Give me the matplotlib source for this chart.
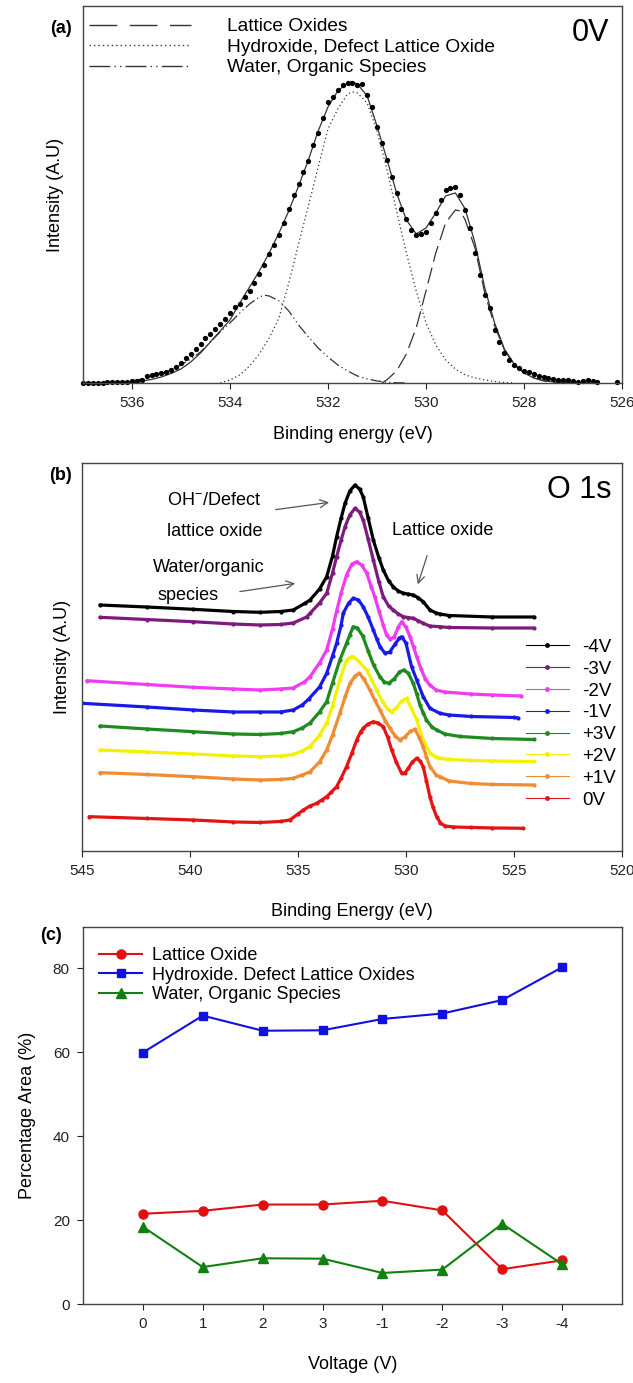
import matplotlib
matplotlib.use("Agg")
import matplotlib.pyplot as plt
from matplotlib.lines import Line2D
import numpy as np

plt.rcParams['font.family'] = ['Liberation Sans', 'DejaVu Sans']
plt.rcParams['mathtext.fontset'] = 'custom'
plt.rcParams['mathtext.rm'] = 'Liberation Sans'

# ---- (a) O 1s fit at 0V ----
e_dots = list(np.round(np.arange(537.0, 526.45, -0.1), 1)) + [526.1]
i_dots = [0, 0, 0, 0.3, 0.3, 0.5, 0.5, 0.7, 1.0, 0.7,
          1.5, 2.0, 3.4, 7.0, 8.3, 9.0, 9.8, 11.0, 13.0, 15.5,
          19.5, 24.5, 28.5, 34.0, 38.5, 44.5, 49.0, 54.0, 58.5, 64.0,
          69.5, 75.5, 79.0, 85.5, 91.5, 99.5, 108.5, 118, 129, 137.5,
          148, 160, 174, 187.5, 199, 210.5, 222, 237.5, 249.5, 265,
          280.5, 286, 293, 297.5, 299.5, 299.5, 298, 298.5, 288, 276,
          256, 239.5, 222.5, 206, 189.5, 174, 164, 152.5, 147.5, 149,
          151, 160, 169.5, 183, 192.5, 195, 195.5, 187.5, 172.5, 154.5,
          130, 107.5, 87.5, 74.5, 53, 41, 29.5, 22.5, 17.5, 14.5,
          12, 10.5, 8.5, 7, 6, 5.3, 3.5, 2.7, 2.7, 2.5,
          2, 1, 2, 2.5, 2, 1, 1]

env_e = [537.0, 536.6, 536.2, 536.0, 535.8, 535.6, 535.4, 535.2, 535.0, 534.8,
         534.6, 534.4, 534.2, 534.0, 533.8, 533.6, 533.4, 533.2, 533.0, 532.8,
         532.6, 532.4, 532.2, 532.0, 531.8, 531.6, 531.5, 531.4, 531.2, 531.0,
         530.8, 530.6, 530.4, 530.2, 530.0, 529.8, 529.6, 529.4, 529.2, 529.0,
         528.8, 528.6, 528.4, 528.2, 528.0, 527.8, 527.6, 527.4, 527.0, 526.5]
env_v = [0, 0, 0.5, 1, 2, 3.5, 6, 9.5, 14, 21,
         30, 41, 52, 63, 80, 96, 112, 130, 150, 172,
         197, 223, 252, 276, 292, 300, 301, 299, 287, 257,
         224, 190, 163, 149, 155, 170, 187, 190, 174, 140,
         95, 60, 34, 19, 10, 5, 2.5, 1, 0, 0]

lat_e = [530.9, 530.8, 530.6, 530.4, 530.2, 530.0, 529.8, 529.6, 529.4, 529.3, 529.2,
         529.0, 528.8, 528.6, 528.4, 528.2, 528.0, 527.8, 527.6, 527.4, 527.0]
lat_v = [0, 3, 12, 29, 55, 92, 130, 160, 173, 172, 163,
         135, 90, 57, 33, 18, 10, 5, 2, 0.5, 0]

hyd_e = [534.2, 534.0, 533.8, 533.6, 533.4, 533.2, 533.0, 532.8, 532.6, 532.4, 532.2,
         532.0, 531.8, 531.6, 531.5, 531.4, 531.2, 531.0, 530.8, 530.6, 530.4, 530.2,
         530.0, 529.8, 529.6, 529.4, 529.2, 529.0, 528.8, 528.6, 528.4, 528.2]
hyd_v = [0, 3, 8, 17, 29, 45, 65, 100, 139, 177, 216,
         254, 274, 289, 291, 290, 280, 252, 214, 172, 130, 92,
         60, 38, 23, 14, 8, 5, 3, 1.5, 0.5, 0]

wat_e = [536.0, 535.8, 535.6, 535.4, 535.2, 535.0, 534.8, 534.6, 534.4, 534.2,
         534.0, 533.8, 533.6, 533.4, 533.3, 533.2, 533.0, 532.8, 532.6, 532.4,
         532.2, 532.0, 531.8, 531.6, 531.4, 531.2, 531.0, 530.8, 530.6, 530.4]
wat_v = [2, 4, 6.5, 9.5, 13, 18, 24, 31, 41, 51,
         60, 70, 79, 86, 87.7, 87, 82, 72, 58, 46,
         35, 26, 18, 12, 7, 4, 2, 0.8, 0.2, 0]

# ---- (b) O 1s spectra vs voltage ----
bk_e = [544.17, 542.0, 539.85, 538.0, 536.76, 535.8, 535.22, 534.68, 534.44, 534.0,
        533.67, 533.4, 533.21, 533.0, 532.82, 532.6, 532.36, 532.15, 531.98, 531.75,
        531.51, 531.25, 531.05, 530.8, 530.59, 530.35, 530.12, 529.9, 529.66, 529.45,
        529.2, 528.89, 528.6, 528.43, 528.0, 526.0, 524.07]
bk_v = [246, 244, 241.7, 239.5, 238.7, 239.5, 241, 247.7, 251, 262,
        274.3, 295, 314.3, 333, 347.7, 360, 366, 362, 354.3, 333,
        311, 293, 281, 270, 264.3, 260, 257.7, 257, 256, 253.5,
        249.3, 241, 238, 237, 235.5, 234, 234]

pu_e = [544.17, 542.0, 539.85, 538.0, 536.76, 535.8, 535.22, 534.6, 534.44, 534.0,
        533.67, 533.4, 533.21, 533.0, 532.82, 532.6, 532.36, 532.15, 531.98, 531.75,
        531.51, 531.25, 531.05, 530.8, 530.59, 530.35, 530.12, 529.9, 529.66, 529.45,
        529.2, 528.9, 528.43, 528.0, 526.0, 524.07]
pu_v = [233.7, 231.5, 229.3, 227, 226, 226.5, 228, 234, 237.7, 248,
        257.7, 278, 294.3, 311, 324.3, 336, 342.7, 339, 331, 312,
        291, 269, 254.3, 245, 241, 237, 234.3, 233.5, 232.7, 230.5,
        227.7, 225, 224.3, 223.5, 223, 223]

mg_e = [544.78, 542.0, 539.85, 538.0, 536.76, 535.8, 535.22, 534.7, 534.44, 534.0,
        533.67, 533.4, 533.21, 533.0, 532.75, 532.5, 532.28, 532.05, 531.82, 531.6,
        531.44, 531.25, 531.05, 530.9, 530.74, 530.55, 530.35, 530.2, 530.0, 529.81,
        529.65, 529.5, 529.3, 529.1, 528.9, 528.6, 528.2, 527.0, 526.0, 524.67]
mg_v = [170.3, 166.5, 163.7, 162, 161, 162, 163, 169, 174.3, 188,
        201, 222, 240, 258, 276, 287, 289.3, 286, 278, 264,
        254, 240, 226, 216, 212, 214, 224, 229.3, 224, 214.3,
        204, 194.3, 182, 172, 166, 161, 159, 157, 156, 155]

bl_e = [545.0, 542.0, 539.85, 538.0, 536.76, 535.8, 535.22, 534.8, 534.5, 534.0,
        533.67, 533.4, 533.21, 533.0, 532.9, 532.65, 532.44, 532.2, 531.98, 531.75,
        531.51, 531.35, 531.2, 530.97, 530.75, 530.5, 530.3, 530.2, 530.0, 529.74,
        529.5, 529.2, 528.89, 528.43, 528.0, 527.0, 525.0, 524.8]
bl_v = [147.7, 144, 141, 139, 139, 139, 141, 146, 152, 164,
        177.7, 195, 207.7, 226, 238, 248, 252.7, 251, 244.3, 234,
        221, 212, 204.3, 197.7, 199, 207, 213, 214.3, 208, 184.3,
        171, 154.3, 142.7, 137.7, 136, 134.5, 133.5, 133]

gr_e = [544.17, 542.0, 539.85, 538.0, 536.76, 535.8, 535.22, 534.8, 534.44, 534.0,
        533.67, 533.4, 533.06, 532.75, 532.6, 532.44, 532.25, 532.0, 531.75, 531.5,
        531.2, 531.0, 530.8, 530.55, 530.3, 530.1, 529.9, 529.66, 529.5, 529.35,
        529.2, 529.05, 528.8, 528.58, 528.2, 527.5, 526.0, 524.07]
gr_v = [125, 122, 119.3, 117, 116.5, 117.5, 119.3, 123, 128, 139,
        149.3, 168, 191, 207.7, 216, 224.3, 223, 215, 200, 186,
        174, 169, 167.7, 172, 179, 181, 178, 167.7, 157, 146,
        138, 131, 124, 121, 117, 114.5, 112.5, 111.5]

ye_e = [544.17, 542.0, 539.85, 538.0, 536.76, 535.8, 535.22, 534.8, 534.44, 534.0,
        533.67, 533.4, 533.06, 532.75, 532.55, 532.44, 532.2, 531.82, 531.6, 531.36,
        531.1, 530.85, 530.66, 530.45, 530.2, 529.97, 529.75, 529.5, 529.2, 528.89,
        528.6, 528.43, 528.0, 527.0, 526.0, 524.07]
ye_v = [101, 99, 97, 95, 94.3, 95, 96.5, 100, 104.3, 116,
        127.7, 145, 171, 191, 194, 194.3, 190, 181, 172, 161,
        150, 142, 139.3, 143, 150, 152.7, 143, 131, 111, 97.7,
        94, 92.7, 91.5, 90.5, 90, 89.5]

or_e = [544.17, 542.0, 539.85, 538.0, 536.76, 535.8, 535.22, 534.8, 534.44, 534.0,
        533.67, 533.4, 533.06, 532.8, 532.59, 532.35, 532.16, 531.95, 531.67, 531.45,
        531.2, 530.95, 530.74, 530.5, 530.28, 530.05, 529.8, 529.58, 529.4, 529.2,
        529.05, 528.89, 528.6, 528.43, 528.0, 527.0, 526.0, 524.07]
or_v = [78.3, 76.5, 74.3, 72, 71, 71.5, 72.7, 76, 79.3, 89,
        101, 116, 137.7, 155, 167.7, 175, 177.7, 172, 161, 151,
        141, 130, 122.7, 115, 111, 114, 119.5, 121.7, 114, 104.3,
        94, 84.3, 76, 74.3, 70, 67.5, 66.5, 66]

rd_e = [544.66, 542.0, 539.85, 538.0, 536.76, 535.8, 535.37, 535.0, 534.75, 534.44,
        534.13, 533.9, 533.67, 533.45, 533.21, 533.0, 532.75, 532.5, 532.28, 532.1,
        531.98, 531.75, 531.51, 531.3, 531.05, 530.85, 530.66, 530.45, 530.2, 530.05,
        529.89, 529.7, 529.5, 529.35, 529.2, 529.05, 528.89, 528.75, 528.58, 528.4,
        528.2, 527.8, 527.0, 526.0, 524.6]
rd_v = [34.3, 32.5, 31, 29, 28.5, 29.5, 31, 37, 41, 45,
        47.7, 51, 54.3, 59, 64.3, 73, 84.3, 98, 111, 119,
        122.7, 127, 129.3, 128, 124.3, 114, 101, 89, 77.7, 78,
        82.7, 89, 92.7, 90, 84.3, 70, 54.3, 44, 34.3, 28,
        25, 24, 23.5, 23, 22.7]

spec_labels = ['-4V', '-3V', '-2V', '-1V', '+3V', '+2V', '+1V', '0V']
spec_colors = ['#000000', '#7d1a7d', '#f03cf0', '#1a1ae8', '#1f8a1f', '#f2f200', '#f08c32', '#e31414']
spec_e = [bk_e, pu_e, mg_e, bl_e, gr_e, ye_e, or_e, rd_e]
spec_v = [bk_v, pu_v, mg_v, bl_v, gr_v, ye_v, or_v, rd_v]

# ---- (c) percentage area ----
volt_labels = ['0', '1', '2', '3', '-1', '-2', '-3', '-4']
lattice_pct = [21.5, 22.2, 23.7, 23.7, 24.6, 22.3, 8.3, 10.4]
hydroxide_pct = [59.9, 68.7, 65.1, 65.2, 67.9, 69.2, 72.4, 80.2]
water_pct = [18.4, 8.8, 10.9, 10.8, 7.4, 8.2, 19.1, 9.5]

fig = plt.figure(figsize=(6.33, 13.83), dpi=100)
ax_a = fig.add_axes([0.1311, 0.7231, 0.8515, 0.2726])
ax_b = fig.add_axes([0.1295, 0.3847, 0.8530, 0.2805])
ax_c = fig.add_axes([0.1311, 0.0571, 0.8515, 0.2726])

for ax in (ax_a, ax_b, ax_c):
    for s in ax.spines.values():
        s.set_color('#444444')
        s.set_linewidth(1.0)
    ax.tick_params(direction='out', length=4.5, width=0.8, labelsize=11, pad=5,
                   colors='#222222', top=False, right=False)

# panel (a)
fcol = '#333333'
lat_dash = (13, 5)
hyd_dash = (1, 2.2)
wat_dash = (9, 2.5, 1, 2.5, 1, 2.5)
ax_a.plot(env_e, env_v, '-', color=fcol, lw=0.9)
ax_a.plot(lat_e, lat_v, color=fcol, lw=0.9, dashes=lat_dash)
ax_a.plot(hyd_e, hyd_v, color=fcol, lw=0.9, dashes=hyd_dash)
ax_a.plot(wat_e, wat_v, color=fcol, lw=0.9, dashes=wat_dash)
ax_a.plot(e_dots, i_dots, 'o', color='black', ms=3.8, mew=0, clip_on=False)
ax_a.set_xlim(537, 526)
ax_a.set_ylim(0, 377)
ax_a.set_xticks([536, 534, 532, 530, 528, 526])
ax_a.set_yticks([])
ax_a.set_xlabel('Binding energy (eV)', fontsize=13)
ax_a.set_ylabel('Intensity (A.U)', fontsize=13)
ax_a.xaxis.set_label_coords(0.5, -0.115)
ax_a.yaxis.set_label_coords(-0.035, 0.5)
handles_a = [Line2D([], [], color=fcol, lw=1.0, dashes=(20, 9)),
             Line2D([], [], color=fcol, lw=1.0, dashes=hyd_dash),
             Line2D([], [], color=fcol, lw=1.0, dashes=(15, 3, 1, 3, 1, 3))]
labels_a = ['Lattice Oxides', 'Hydroxide, Defect Lattice Oxide', 'Water, Organic Species']
ax_a.legend(handles_a, labels_a, loc='upper left', bbox_to_anchor=(0.012, 0.968), frameon=False,
            fontsize=13.8, handlelength=5.3, handletextpad=1.9, labelspacing=0.16,
            borderpad=0, borderaxespad=0)
ax_a.text(0.976, 0.928, '0V', transform=ax_a.transAxes, fontsize=22, ha='right', va='center')
fig.text(0.096, 0.9795, '(a)', fontsize=13, fontweight='bold', ha='center', va='center')

# panel (b)
for e, v, c in zip(spec_e, spec_v, spec_colors):
    ax_b.plot(e, v, '-', color=c, lw=2.3, marker='o', ms=3.0, mew=0, solid_capstyle='round')
ax_b.set_xlim(545, 520)
ax_b.set_ylim(0, 388)
ax_b.set_xticks([545, 540, 535, 530, 525, 520])
ax_b.set_yticks([])
ax_b.set_xlabel('Binding Energy (eV)', fontsize=13)
ax_b.set_ylabel('Intensity (A.U)', fontsize=13)
ax_b.xaxis.set_label_coords(0.5, -0.135)
ax_b.yaxis.set_label_coords(-0.02, 0.5)
handles_b = [Line2D([], [], color=c, lw=0.8, marker='o', ms=3.5, mew=0) for c in spec_colors]
ax_b.legend(handles_b, spec_labels, loc='upper left', bbox_to_anchor=(0.822, 0.547), frameon=False,
            fontsize=13.5, handlelength=2.3, handletextpad=0.7, labelspacing=0.25,
            borderpad=0, borderaxespad=0)
ax_b.text(0.98, 0.93, 'O 1s', transform=ax_b.transAxes, fontsize=22, ha='right', va='center')
fig.text(0.096, 0.6565, '(b)', fontsize=13, fontweight='bold', ha='center', va='center')

akw = dict(arrowstyle='->', color='#555555', lw=0.9, mutation_scale=14)
ax_b.annotate('', xy=(533.43, 349), xytext=(536.16, 341), arrowprops=akw)
ax_b.annotate('', xy=(535.0, 268), xytext=(537.82, 259), arrowprops=akw)
ax_b.annotate('', xy=(529.49, 264), xytext=(528.98, 298), arrowprops=akw)
ax_b.text(541.07, 351, 'OH$^{-}$/Defect', fontsize=13, ha='left', va='center')
ax_b.text(541.07, 320, 'lattice oxide', fontsize=13, ha='left', va='center')
ax_b.text(541.7, 284, 'Water/organic', fontsize=13, ha='left', va='center')
ax_b.text(541.5, 256, 'species', fontsize=13, ha='left', va='center')
ax_b.text(530.65, 321, 'Lattice oxide', fontsize=13, ha='left', va='center')

# panel (c)
xpos = np.arange(len(volt_labels))
ax_c.plot(xpos, lattice_pct, '-o', color='#e01010', lw=1.5, ms=6.5, label='Lattice Oxide')
ax_c.plot(xpos, hydroxide_pct, '-s', color='#1010e0', lw=1.5, ms=6.0,
          label='Hydroxide. Defect Lattice Oxides')
ax_c.plot(xpos, water_pct, '-^', color='#108010', lw=1.5, ms=6.5, label='Water, Organic Species')
ax_c.set_xlim(-1, 8)
ax_c.set_ylim(0, 89.8)
ax_c.set_xticks(xpos)
ax_c.set_xticklabels(volt_labels)
ax_c.set_yticks([0, 20, 40, 60, 80])
ax_c.set_xlabel('Voltage (V)', fontsize=13)
ax_c.set_ylabel('Percentage Area (%)', fontsize=13)
ax_c.xaxis.set_label_coords(0.5, -0.137)
ax_c.yaxis.set_label_coords(-0.087, 0.5)
ax_c.legend(loc='upper left', bbox_to_anchor=(0.03, 0.947), frameon=False, fontsize=13,
            handlelength=2.4, handletextpad=0.5, labelspacing=0.14, borderpad=0, borderaxespad=0)
fig.text(0.08, 0.3239, '(c)', fontsize=13, fontweight='bold', ha='center', va='center')

fig.savefig('out.png', dpi=100)
